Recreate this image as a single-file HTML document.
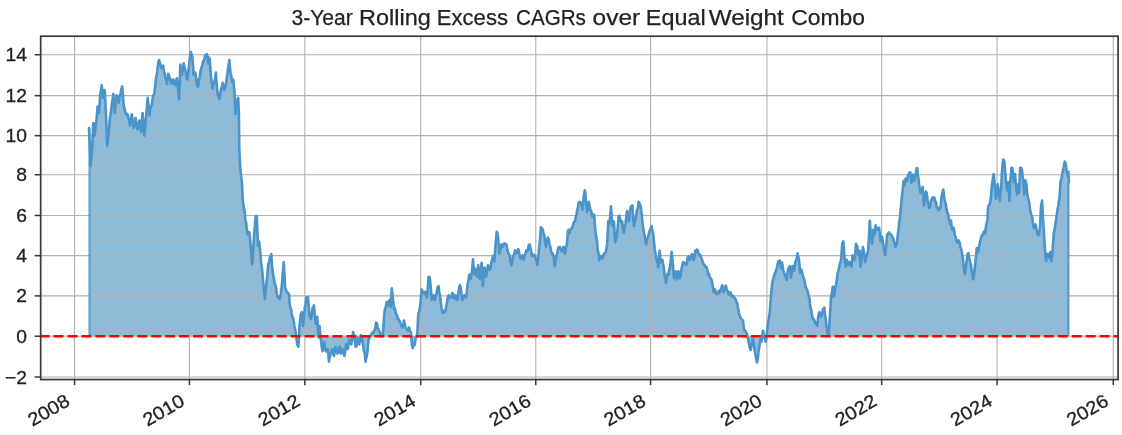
<!DOCTYPE html>
<html><head><meta charset="utf-8"><style>
html,body{margin:0;padding:0;background:#fff;}
body{width:1122px;height:435px;overflow:hidden;}
svg{display:block;font-family:"Liberation Sans", sans-serif;filter:blur(0.55px);}
</style></head><body>
<svg width="1122" height="435" viewBox="0 0 1122 435">
<rect x="0" y="0" width="1122" height="435" fill="#ffffff"/>
<polygon points="89.0,336.2 89.0,128.0 90.6,166.0 92.0,151.0 93.3,123.0 94.6,135.7 96.4,120.5 97.6,106.6 98.9,113.0 100.2,95.0 101.7,85.0 103.2,97.8 104.7,90.0 105.7,108.0 107.2,145.8 109.0,130.6 110.3,115.5 112.0,102.8 113.3,94.0 114.8,113.0 116.6,95.2 118.6,102.8 120.4,94.0 122.2,86.4 123.7,105.3 125.5,113.0 128.0,115.5 130.0,125.6 131.8,114.2 133.5,128.0 135.6,118.0 137.6,129.4 139.4,120.5 141.1,132.0 142.6,113.0 144.4,135.7 145.7,120.5 147.7,97.8 149.5,115.5 152.5,99.0 154.3,94.0 156.1,77.6 157.4,70.2 159.1,60.0 160.7,65.7 162.4,66.8 163.7,70.3 165.3,77.2 167.0,84.0 168.3,73.7 170.0,78.3 171.6,84.0 173.4,79.5 175.2,85.2 176.8,78.3 178.0,88.7 179.1,99.0 180.3,64.5 182.1,74.9 183.7,63.4 185.3,70.3 187.2,79.5 189.0,65.7 190.6,51.9 192.2,56.5 193.6,74.9 195.2,72.6 196.8,82.9 198.2,86.4 199.8,77.2 201.4,68.0 203.3,61.0 205.1,55.3 206.7,54.2 208.3,63.4 209.7,58.8 211.1,78.3 212.5,88.7 214.3,81.8 215.9,72.6 217.5,93.3 219.4,99.0 221.0,88.7 222.8,82.9 224.4,89.8 226.3,81.8 228.1,68.0 229.3,60.0 230.4,72.6 232.0,81.8 233.2,79.5 234.3,89.8 235.5,114.0 237.1,100.2 238.2,97.9 238.9,114.0 239.3,148.4 240.6,171.4 242.0,182.9 242.6,199.0 243.7,206.9 244.7,211.5 245.3,220.7 247.6,234.5 249.3,232.2 250.6,246.0 252.2,264.4 253.4,246.0 254.5,229.9 255.7,216.1 256.8,216.1 258.0,246.0 259.1,241.4 260.7,257.5 262.1,269.0 263.7,287.4 264.9,298.9 266.7,280.5 268.3,264.4 269.9,257.5 271.3,254.0 272.9,273.6 274.5,282.8 275.9,287.4 277.5,296.6 279.8,298.9 282.1,282.8 283.7,262.1 285.1,287.4 286.7,292.0 289.0,294.3 290.3,307.6 292.6,316.8 294.3,326.0 296.1,335.2 297.2,344.4 298.4,346.7 299.5,326.0 300.7,314.5 301.8,312.2 303.0,326.0 304.8,307.6 306.4,297.2 308.0,297.2 309.4,314.5 311.0,319.1 312.6,307.6 314.0,305.3 315.6,323.7 317.2,316.8 318.6,337.5 319.5,326.0 320.9,339.8 322.5,351.3 324.1,342.1 326.0,351.3 327.6,349.0 329.0,361.6 330.6,353.6 332.4,349.0 334.0,355.9 335.6,346.7 337.5,353.6 339.3,346.7 340.9,353.6 342.5,349.0 344.4,355.9 346.2,344.4 347.8,349.0 349.4,339.8 351.3,344.4 353.1,331.7 354.7,339.8 356.3,346.7 357.7,337.5 359.3,344.4 360.9,335.2 362.3,339.8 363.9,351.3 365.5,361.6 366.9,355.9 368.5,339.8 370.1,337.5 372.0,332.9 374.3,330.6 376.1,322.5 377.7,328.3 380.0,332.9 382.0,336.7 383.3,329.8 384.9,309.1 386.6,302.2 387.9,305.6 389.5,299.9 390.7,306.8 391.8,288.4 393.0,299.9 394.1,309.1 395.7,312.5 397.1,316.0 398.7,319.4 400.3,322.9 402.2,327.5 404.0,320.6 405.6,327.5 407.2,329.8 409.1,327.5 410.9,332.1 411.8,343.6 412.8,348.2 414.1,343.6 415.5,339.0 417.1,336.7 418.3,313.7 420.1,306.8 421.7,289.5 423.3,293.0 425.2,291.8 427.0,297.6 428.6,276.9 430.2,281.5 431.6,299.9 433.2,295.3 434.8,299.9 436.7,293.0 438.5,286.1 440.1,295.3 441.7,309.1 443.6,312.5 445.4,311.4 447.0,302.2 448.6,295.3 450.5,297.6 452.3,293.0 453.9,297.6 455.5,295.3 457.4,299.9 459.2,287.2 460.8,288.4 462.4,299.9 464.3,295.3 466.1,297.6 467.7,283.8 469.3,274.6 470.7,279.0 471.9,272.1 473.0,259.4 474.2,274.4 475.3,268.6 477.0,276.7 478.3,265.2 479.9,279.0 481.6,262.9 482.9,285.9 484.5,267.5 486.1,276.7 488.0,265.2 489.8,269.8 491.4,262.9 493.0,256.0 494.4,261.7 495.6,244.5 496.7,231.8 498.3,239.9 499.5,253.7 501.3,244.5 502.9,246.8 504.5,243.3 506.4,244.5 508.2,252.5 509.8,256.0 511.4,265.2 513.3,256.0 515.1,250.2 516.7,251.4 518.3,249.1 520.2,258.3 522.0,256.0 523.6,259.4 525.2,254.8 527.1,251.4 528.9,244.5 530.5,247.9 532.1,256.0 534.0,254.8 535.8,258.3 537.4,265.2 539.0,249.1 540.9,227.2 542.7,229.5 544.3,235.3 545.9,246.8 547.8,237.6 549.6,244.5 551.2,251.4 552.8,253.7 554.7,266.3 556.5,256.0 558.1,247.9 559.7,246.8 561.6,251.4 563.4,246.8 565.1,253.6 566.9,244.4 568.0,230.6 569.7,232.9 571.5,228.3 573.3,223.7 574.9,221.4 576.6,214.5 577.9,207.6 579.5,201.8 581.1,203.0 582.5,209.9 583.7,196.1 584.8,190.3 586.0,203.0 587.1,212.2 588.7,201.8 590.3,209.9 592.2,216.8 594.0,214.5 595.6,232.9 596.8,239.8 597.9,251.3 599.1,260.5 600.9,255.9 602.5,258.2 604.1,253.6 606.0,251.3 607.1,244.4 608.3,221.4 609.4,223.7 611.0,206.4 612.4,226.0 614.0,221.4 615.2,242.1 617.0,235.2 618.6,216.8 620.2,220.2 622.1,221.4 623.9,232.9 625.5,223.7 627.1,211.0 629.0,221.4 630.8,206.4 632.4,205.3 634.0,226.0 635.4,219.1 637.0,209.9 638.6,201.8 640.5,205.3 641.6,213.3 642.8,226.0 644.6,235.2 646.2,244.4 647.8,237.5 649.7,230.6 651.5,226.0 653.1,232.9 654.7,249.0 656.6,260.5 658.4,267.4 659.6,250.7 660.7,262.2 662.4,259.9 663.7,266.8 664.7,276.0 666.0,282.9 667.6,273.7 669.3,269.1 670.6,262.2 671.6,251.8 672.7,262.2 673.9,278.3 675.2,271.4 676.8,279.4 678.4,271.4 679.8,278.3 681.4,269.1 683.0,262.2 684.9,263.3 686.7,264.5 688.3,256.4 689.9,259.9 691.8,254.1 693.6,259.9 695.2,250.7 696.8,249.5 698.7,255.3 700.5,255.3 702.1,259.9 703.7,264.5 705.6,266.8 707.4,270.2 709.0,273.7 710.6,278.3 712.5,284.0 713.6,292.1 715.2,289.8 717.1,293.2 718.9,290.9 720.5,289.8 722.1,285.2 723.5,292.1 725.1,287.5 726.7,289.8 728.6,294.4 730.4,292.1 732.0,296.7 733.6,296.7 735.5,299.0 737.3,303.6 738.9,312.8 740.5,317.4 741.9,319.7 743.1,321.0 743.8,327.9 745.2,330.7 746.6,332.8 747.7,337.6 748.6,341.7 749.6,347.2 750.7,350.0 751.8,344.5 752.8,339.0 753.7,343.1 754.8,351.4 755.9,356.9 756.9,362.4 757.9,358.3 758.7,350.0 759.7,344.5 760.6,339.0 761.4,341.7 762.4,334.8 763.1,330.7 763.8,334.8 764.8,339.0 765.6,341.7 766.6,336.2 767.5,326.6 768.6,319.7 769.7,312.8 770.6,300.6 771.8,286.8 773.6,277.6 775.2,273.0 776.8,268.4 778.2,261.5 779.8,260.3 781.0,268.4 782.1,262.6 783.3,270.7 785.1,275.3 786.7,279.9 788.3,268.4 789.7,266.1 790.9,277.6 792.5,266.1 794.1,270.7 795.5,261.5 796.6,259.2 797.5,253.4 798.9,259.2 800.1,273.0 801.7,270.7 803.5,277.6 805.1,284.5 806.7,289.1 808.6,296.0 810.4,307.5 812.0,314.4 813.6,319.0 815.5,323.6 817.3,325.9 818.2,316.7 819.6,312.1 821.2,316.7 822.8,309.8 824.2,307.5 825.8,319.0 827.4,332.8 828.8,335.1 829.7,319.0 831.1,296.0 832.7,286.8 833.7,296.6 835.3,287.4 837.0,278.2 838.8,269.0 839.9,264.4 841.1,259.8 842.2,243.7 843.4,241.4 844.5,257.5 845.7,266.7 846.8,259.8 848.0,264.4 849.8,262.1 851.4,266.7 852.6,255.2 854.4,259.8 856.0,243.7 857.2,246.0 858.3,255.2 859.5,250.6 860.6,266.7 861.8,257.5 862.9,247.1 864.1,252.9 865.2,262.1 866.4,257.5 867.5,252.9 868.7,241.4 869.8,220.7 871.0,236.8 872.1,243.7 873.3,229.9 874.4,234.5 875.6,225.3 877.4,229.9 879.0,227.6 880.6,241.4 882.0,236.8 883.6,246.0 885.2,255.2 887.1,234.5 889.1,232.4 891.2,234.5 893.3,238.6 895.3,246.9 897.0,242.8 898.4,230.3 899.9,217.9 901.1,205.5 902.6,191.0 903.6,180.7 904.7,184.8 905.7,178.6 907.3,180.7 908.8,174.5 910.2,172.4 911.5,182.8 912.9,174.5 914.4,180.7 916.0,172.4 917.3,168.3 918.5,178.6 919.8,189.0 921.2,193.1 922.7,186.9 923.9,205.5 925.3,195.2 926.8,193.1 928.5,205.5 930.1,207.6 931.6,199.3 933.0,197.2 935.1,201.4 936.8,207.9 938.7,210.2 940.5,207.9 942.1,194.1 943.3,189.5 944.4,198.7 945.6,203.3 946.7,210.2 948.3,215.0 950.1,224.2 951.0,220.5 952.0,229.7 953.8,227.9 955.6,237.1 957.5,242.6 959.3,241.7 960.6,248.1 962.1,253.6 963.5,264.7 964.8,273.9 966.1,264.7 967.6,253.6 969.1,257.3 970.3,262.8 971.6,270.2 973.1,279.4 974.0,275.7 974.9,266.5 975.9,257.3 976.8,248.1 978.3,251.8 979.5,244.4 980.8,238.9 982.3,235.2 983.8,231.6 985.1,233.4 986.0,226.0 987.4,220.5 988.1,207.1 989.6,205.0 990.8,198.8 991.8,186.4 992.9,178.1 993.7,174.0 994.9,186.4 996.0,198.8 997.0,188.5 997.8,184.3 999.1,196.7 999.9,200.9 1001.1,188.5 1002.0,171.9 1003.2,159.5 1004.4,161.6 1005.3,174.0 1006.1,182.2 1007.3,190.5 1008.4,182.2 1009.4,200.9 1010.2,182.2 1011.5,167.8 1012.9,171.9 1014.0,182.2 1015.0,174.0 1016.0,186.4 1017.1,194.7 1018.1,184.3 1019.1,192.6 1020.2,167.8 1021.2,167.8 1022.2,171.9 1023.3,182.2 1024.3,194.7 1025.3,180.2 1026.4,184.3 1027.4,195.0 1029.2,202.4 1030.1,209.7 1031.4,215.2 1032.9,222.6 1033.8,228.1 1035.6,224.4 1036.9,231.8 1038.4,235.5 1039.9,228.1 1041.1,206.0 1042.1,200.5 1043.0,218.9 1044.3,239.1 1045.4,255.7 1046.1,261.2 1047.6,253.9 1049.1,257.5 1050.3,252.0 1051.3,261.2 1052.2,255.7 1053.1,242.8 1054.0,231.8 1055.3,224.4 1056.8,215.2 1058.3,206.0 1059.5,198.7 1060.5,182.2 1061.6,178.1 1062.6,171.9 1063.6,167.8 1064.7,161.6 1065.7,163.6 1066.7,171.9 1067.8,176.0 1068.4,171.9 1069.0,182.2 1069.0,336.2" fill="#8fbbd9" stroke="none"/>
<line x1="40.67" y1="377.03" x2="1118.09" y2="377.03" stroke="#b0b0b0" stroke-width="1.1"/>
<line x1="40.67" y1="336.20" x2="1118.09" y2="336.20" stroke="#b0b0b0" stroke-width="1.1"/>
<line x1="40.67" y1="295.90" x2="1118.09" y2="295.90" stroke="#b0b0b0" stroke-width="1.1"/>
<line x1="40.67" y1="255.67" x2="1118.09" y2="255.67" stroke="#b0b0b0" stroke-width="1.1"/>
<line x1="40.67" y1="215.48" x2="1118.09" y2="215.48" stroke="#b0b0b0" stroke-width="1.1"/>
<line x1="40.67" y1="174.75" x2="1118.09" y2="174.75" stroke="#b0b0b0" stroke-width="1.1"/>
<line x1="40.67" y1="135.67" x2="1118.09" y2="135.67" stroke="#b0b0b0" stroke-width="1.1"/>
<line x1="40.67" y1="95.67" x2="1118.09" y2="95.67" stroke="#b0b0b0" stroke-width="1.1"/>
<line x1="40.67" y1="54.75" x2="1118.09" y2="54.75" stroke="#b0b0b0" stroke-width="1.1"/>
<line x1="74.57" y1="36.2" x2="74.57" y2="379.56" stroke="#b0b0b0" stroke-width="1.1"/>
<line x1="189.43" y1="36.2" x2="189.43" y2="379.56" stroke="#b0b0b0" stroke-width="1.1"/>
<line x1="304.85" y1="36.2" x2="304.85" y2="379.56" stroke="#b0b0b0" stroke-width="1.1"/>
<line x1="420.69" y1="36.2" x2="420.69" y2="379.56" stroke="#b0b0b0" stroke-width="1.1"/>
<line x1="535.77" y1="36.2" x2="535.77" y2="379.56" stroke="#b0b0b0" stroke-width="1.1"/>
<line x1="650.57" y1="36.2" x2="650.57" y2="379.56" stroke="#b0b0b0" stroke-width="1.1"/>
<line x1="766.92" y1="36.2" x2="766.92" y2="379.56" stroke="#b0b0b0" stroke-width="1.1"/>
<line x1="881.66" y1="36.2" x2="881.66" y2="379.56" stroke="#b0b0b0" stroke-width="1.1"/>
<line x1="997.08" y1="36.2" x2="997.08" y2="379.56" stroke="#b0b0b0" stroke-width="1.1"/>
<line x1="1113.26" y1="36.2" x2="1113.26" y2="379.56" stroke="#b0b0b0" stroke-width="1.1"/>
<line x1="89.3" y1="336.2" x2="89.3" y2="128.0" stroke="rgba(31,119,180,0.4)" stroke-width="2.6"/>
<line x1="1068.4" y1="336.2" x2="1068.4" y2="182.2" stroke="rgba(31,119,180,0.45)" stroke-width="2.6"/>
<polyline points="89.0,128.0 89.8,146.6 90.6,166.0 91.3,159.2 92.0,151.0 92.7,136.7 93.3,123.0 93.9,128.9 94.6,135.7 95.5,126.8 96.4,120.5 97.6,106.6 98.2,109.5 98.9,113.0 99.6,105.6 100.2,95.0 101.0,90.6 101.7,85.0 102.5,92.9 103.2,97.8 104.0,94.2 104.7,90.0 105.7,108.0 106.5,127.5 107.2,145.8 108.1,138.5 109.0,130.6 109.7,120.7 110.3,115.5 111.2,110.3 112.0,102.8 112.7,99.1 113.3,94.0 114.0,104.2 114.8,113.0 115.7,101.7 116.6,95.2 117.6,96.6 118.6,102.8 119.5,97.2 120.4,94.0 121.3,89.5 122.2,86.4 123.0,96.3 123.7,105.3 124.6,109.1 125.5,113.0 126.3,114.6 127.2,113.8 128.0,115.5 129.0,121.0 130.0,125.6 130.9,120.5 131.8,114.2 132.7,120.2 133.5,128.0 134.2,127.1 134.9,122.1 135.6,118.0 136.6,125.4 137.6,129.4 138.5,124.1 139.4,120.5 140.2,125.2 141.1,132.0 141.8,122.0 142.6,113.0 143.5,124.2 144.4,135.7 145.1,129.0 145.7,120.5 146.7,109.5 147.7,97.8 148.6,106.0 149.5,115.5 150.2,110.0 151.0,106.5 151.8,104.8 152.5,99.0 153.4,95.4 154.3,94.0 155.2,86.1 156.1,77.6 156.8,74.5 157.4,70.2 158.2,63.0 159.1,60.0 159.9,62.9 160.7,65.7 161.6,68.1 162.4,66.8 163.1,65.7 163.7,70.3 164.5,73.3 165.3,77.2 166.2,80.5 167.0,84.0 167.7,77.7 168.3,73.7 169.2,76.7 170.0,78.3 170.8,81.1 171.6,84.0 172.5,79.7 173.4,79.5 174.3,83.5 175.2,85.2 176.0,82.7 176.8,78.3 178.0,88.7 179.1,99.0 179.7,83.1 180.3,64.5 181.2,71.7 182.1,74.9 182.9,69.7 183.7,63.4 184.5,67.0 185.3,70.3 186.2,73.1 187.2,79.5 188.1,73.5 189.0,65.7 189.8,57.9 190.6,51.9 191.4,53.6 192.2,56.5 192.9,63.9 193.6,74.9 194.4,72.4 195.2,72.6 196.0,77.0 196.8,82.9 197.5,86.5 198.2,86.4 199.0,79.0 199.8,77.2 200.6,70.6 201.4,68.0 202.4,64.8 203.3,61.0 204.2,60.2 205.1,55.3 205.9,55.6 206.7,54.2 207.5,56.1 208.3,63.4 209.0,57.6 209.7,58.8 210.4,69.1 211.1,78.3 211.8,82.5 212.5,88.7 213.4,83.7 214.3,81.8 215.1,78.6 215.9,72.6 216.7,84.5 217.5,93.3 218.4,96.4 219.4,99.0 220.2,94.2 221.0,88.7 221.9,86.4 222.8,82.9 223.6,88.6 224.4,89.8 225.4,86.7 226.3,81.8 227.2,75.6 228.1,68.0 228.7,64.8 229.3,60.0 230.4,72.6 231.2,75.0 232.0,81.8 233.2,79.5 234.3,89.8 235.5,114.0 236.3,108.9 237.1,100.2 238.2,97.9 238.9,114.0 239.3,148.4 239.9,161.2 240.6,171.4 241.3,177.9 242.0,182.9 242.6,199.0 243.7,206.9 244.7,211.5 245.3,220.7 246.1,222.5 246.8,229.0 247.6,234.5 248.4,234.5 249.3,232.2 249.9,236.6 250.6,246.0 251.4,254.9 252.2,264.4 252.8,256.6 253.4,246.0 254.5,229.9 255.7,216.1 256.8,216.1 258.0,246.0 259.1,241.4 259.9,247.6 260.7,257.5 261.4,265.5 262.1,269.0 262.9,279.0 263.7,287.4 264.9,298.9 265.8,289.5 266.7,280.5 267.5,272.9 268.3,264.4 269.1,261.9 269.9,257.5 270.6,255.9 271.3,254.0 272.1,265.4 272.9,273.6 273.7,277.3 274.5,282.8 275.2,284.5 275.9,287.4 276.7,293.5 277.5,296.6 278.3,297.4 279.0,296.9 279.8,298.9 280.6,294.9 281.3,290.2 282.1,282.8 282.9,271.8 283.7,262.1 284.4,272.8 285.1,287.4 285.9,289.5 286.7,292.0 287.5,292.6 288.2,293.1 289.0,294.3 289.6,302.9 290.3,307.6 291.1,309.2 291.8,315.5 292.6,316.8 293.5,319.6 294.3,326.0 295.2,329.5 296.1,335.2 297.2,344.4 298.4,346.7 299.5,326.0 300.7,314.5 301.8,312.2 303.0,326.0 303.9,317.7 304.8,307.6 305.6,304.0 306.4,297.2 307.2,298.4 308.0,297.2 308.7,306.3 309.4,314.5 310.2,317.0 311.0,319.1 311.8,313.6 312.6,307.6 313.3,307.3 314.0,305.3 314.8,314.3 315.6,323.7 316.4,320.6 317.2,316.8 317.9,328.0 318.6,337.5 319.5,326.0 320.2,332.9 320.9,339.8 321.7,346.6 322.5,351.3 323.3,347.5 324.1,342.1 325.1,349.5 326.0,351.3 326.8,350.6 327.6,349.0 328.3,354.7 329.0,361.6 329.8,357.1 330.6,353.6 331.5,351.3 332.4,349.0 333.2,353.7 334.0,355.9 334.8,350.8 335.6,346.7 336.6,350.7 337.5,353.6 338.4,352.7 339.3,346.7 340.1,346.6 340.9,353.6 341.7,349.7 342.5,349.0 343.4,352.8 344.4,355.9 345.3,350.7 346.2,344.4 347.0,347.0 347.8,349.0 348.6,343.8 349.4,339.8 350.4,343.0 351.3,344.4 352.2,338.4 353.1,331.7 353.9,335.0 354.7,339.8 355.5,346.7 356.3,346.7 357.0,342.6 357.7,337.5 358.5,340.2 359.3,344.4 360.1,339.7 360.9,335.2 361.6,337.2 362.3,339.8 363.1,345.5 363.9,351.3 364.7,353.0 365.5,361.6 366.2,358.1 366.9,355.9 367.7,349.3 368.5,339.8 369.3,337.0 370.1,337.5 371.1,335.1 372.0,332.9 372.8,333.5 373.5,332.6 374.3,330.6 375.2,328.6 376.1,322.5 376.9,323.0 377.7,328.3 378.5,329.3 379.2,330.9 380.0,332.9 381.0,335.7 382.0,336.7 382.6,334.8 383.3,329.8 384.1,316.0 384.9,309.1 385.8,307.2 386.6,302.2 387.2,301.9 387.9,305.6 388.7,303.7 389.5,299.9 390.7,306.8 391.8,288.4 393.0,299.9 394.1,309.1 394.9,308.7 395.7,312.5 396.4,314.5 397.1,316.0 397.9,319.4 398.7,319.4 399.5,320.9 400.3,322.9 401.2,325.5 402.2,327.5 403.1,325.2 404.0,320.6 404.8,324.2 405.6,327.5 406.4,328.5 407.2,329.8 408.1,330.8 409.1,327.5 410.0,331.3 410.9,332.1 411.8,343.6 412.8,348.2 413.5,345.5 414.1,343.6 414.8,344.8 415.5,339.0 416.3,336.2 417.1,336.7 418.3,313.7 419.2,311.5 420.1,306.8 420.9,297.8 421.7,289.5 422.5,291.4 423.3,293.0 424.2,293.4 425.2,291.8 426.1,295.0 427.0,297.6 427.8,288.1 428.6,276.9 429.4,277.1 430.2,281.5 430.9,288.6 431.6,299.9 432.4,298.5 433.2,295.3 434.0,296.3 434.8,299.9 435.8,295.0 436.7,293.0 437.6,287.5 438.5,286.1 439.3,292.5 440.1,295.3 440.9,303.2 441.7,309.1 442.6,312.9 443.6,312.5 444.5,310.6 445.4,311.4 446.2,306.8 447.0,302.2 447.8,297.2 448.6,295.3 449.6,297.5 450.5,297.6 451.4,297.5 452.3,293.0 453.1,294.1 453.9,297.6 454.7,298.6 455.5,295.3 456.4,299.0 457.4,299.9 458.3,293.3 459.2,287.2 460.0,285.0 460.8,288.4 461.6,296.1 462.4,299.9 463.4,297.5 464.3,295.3 465.2,295.6 466.1,297.6 466.9,291.3 467.7,283.8 468.5,279.8 469.3,274.6 470.0,278.9 470.7,279.0 471.9,272.1 473.0,259.4 474.2,274.4 475.3,268.6 476.1,271.2 477.0,276.7 477.6,272.5 478.3,265.2 479.1,274.2 479.9,279.0 480.8,273.0 481.6,262.9 482.2,274.1 482.9,285.9 483.7,275.7 484.5,267.5 485.3,273.5 486.1,276.7 487.1,271.1 488.0,265.2 488.9,267.7 489.8,269.8 490.6,268.3 491.4,262.9 492.2,259.1 493.0,256.0 493.7,255.6 494.4,261.7 495.0,252.6 495.6,244.5 496.7,231.8 497.5,233.3 498.3,239.9 499.5,253.7 500.4,250.2 501.3,244.5 502.1,246.1 502.9,246.8 503.7,244.2 504.5,243.3 505.4,243.9 506.4,244.5 507.3,249.7 508.2,252.5 509.0,254.4 509.8,256.0 510.6,262.5 511.4,265.2 512.3,260.5 513.3,256.0 514.2,254.6 515.1,250.2 515.9,252.9 516.7,251.4 517.5,252.5 518.3,249.1 519.2,252.8 520.2,258.3 521.1,258.4 522.0,256.0 522.8,255.1 523.6,259.4 524.4,255.6 525.2,254.8 526.2,250.4 527.1,251.4 528.0,249.4 528.9,244.5 529.7,244.5 530.5,247.9 531.3,251.9 532.1,256.0 533.0,255.1 534.0,254.8 534.9,256.5 535.8,258.3 536.6,260.9 537.4,265.2 538.2,257.5 539.0,249.1 540.0,240.7 540.9,227.2 541.8,228.4 542.7,229.5 543.5,233.1 544.3,235.3 545.1,242.5 545.9,246.8 546.8,241.9 547.8,237.6 548.7,239.3 549.6,244.5 550.4,247.2 551.2,251.4 552.0,254.1 552.8,253.7 553.8,257.7 554.7,266.3 555.6,260.3 556.5,256.0 557.3,253.4 558.1,247.9 558.9,248.5 559.7,246.8 560.7,249.1 561.6,251.4 562.5,250.2 563.4,246.8 564.2,250.4 565.1,253.6 566.0,247.3 566.9,244.4 568.0,230.6 568.9,229.6 569.7,232.9 570.6,229.7 571.5,228.3 572.4,227.3 573.3,223.7 574.1,221.8 574.9,221.4 575.8,216.7 576.6,214.5 577.2,210.0 577.9,207.6 578.7,202.6 579.5,201.8 580.3,202.2 581.1,203.0 581.8,204.8 582.5,209.9 583.1,203.5 583.7,196.1 584.8,190.3 585.4,193.3 586.0,203.0 587.1,212.2 587.9,207.5 588.7,201.8 589.5,205.0 590.3,209.9 591.2,210.6 592.2,216.8 593.1,216.7 594.0,214.5 594.8,223.3 595.6,232.9 596.8,239.8 597.9,251.3 598.5,252.8 599.1,260.5 600.0,257.0 600.9,255.9 601.7,257.5 602.5,258.2 603.3,255.3 604.1,253.6 605.0,253.5 606.0,251.3 607.1,244.4 608.3,221.4 609.4,223.7 610.2,216.1 611.0,206.4 611.7,217.1 612.4,226.0 613.2,224.2 614.0,221.4 614.6,233.6 615.2,242.1 616.1,239.6 617.0,235.2 617.8,226.6 618.6,216.8 619.4,215.6 620.2,220.2 621.2,222.1 622.1,221.4 623.0,229.0 623.9,232.9 624.7,227.9 625.5,223.7 626.3,216.7 627.1,211.0 628.0,218.9 629.0,221.4 629.9,211.4 630.8,206.4 631.6,206.5 632.4,205.3 633.2,219.0 634.0,226.0 634.7,221.3 635.4,219.1 636.2,215.5 637.0,209.9 637.8,208.5 638.6,201.8 639.5,203.4 640.5,205.3 641.6,213.3 642.8,226.0 643.7,231.4 644.6,235.2 645.4,241.1 646.2,244.4 647.0,239.7 647.8,237.5 648.8,233.9 649.7,230.6 650.6,228.7 651.5,226.0 652.3,230.6 653.1,232.9 653.9,240.9 654.7,249.0 655.7,254.5 656.6,260.5 657.5,262.5 658.4,267.4 659.0,258.5 659.6,250.7 660.7,262.2 661.5,262.3 662.4,259.9 663.0,263.5 663.7,266.8 664.7,276.0 665.4,278.3 666.0,282.9 666.8,277.1 667.6,273.7 668.5,274.9 669.3,269.1 670.0,267.2 670.6,262.2 671.6,251.8 672.7,262.2 673.9,278.3 674.5,275.7 675.2,271.4 676.0,271.9 676.8,279.4 677.6,276.3 678.4,271.4 679.1,275.5 679.8,278.3 680.6,276.1 681.4,269.1 682.2,266.2 683.0,262.2 684.0,262.7 684.9,263.3 685.8,264.6 686.7,264.5 687.5,257.7 688.3,256.4 689.1,259.6 689.9,259.9 690.8,257.5 691.8,254.1 692.7,256.0 693.6,259.9 694.4,257.2 695.2,250.7 696.0,252.6 696.8,249.5 697.8,250.4 698.7,255.3 699.6,254.4 700.5,255.3 701.3,258.0 702.1,259.9 702.9,262.5 703.7,264.5 704.7,265.1 705.6,266.8 706.5,267.1 707.4,270.2 708.2,274.9 709.0,273.7 709.8,277.5 710.6,278.3 711.5,279.5 712.5,284.0 713.6,292.1 714.4,289.1 715.2,289.8 716.2,293.9 717.1,293.2 718.0,293.4 718.9,290.9 719.7,292.9 720.5,289.8 721.3,288.6 722.1,285.2 722.8,287.4 723.5,292.1 724.3,290.2 725.1,287.5 725.9,285.6 726.7,289.8 727.7,291.1 728.6,294.4 729.5,293.2 730.4,292.1 731.2,295.1 732.0,296.7 732.8,295.7 733.6,296.7 734.5,297.7 735.5,299.0 736.4,301.9 737.3,303.6 738.1,308.7 738.9,312.8 739.7,316.0 740.5,317.4 741.2,318.8 741.9,319.7 742.5,319.9 743.1,321.0 743.8,327.9 744.5,330.4 745.2,330.7 745.9,331.8 746.6,332.8 747.7,337.6 748.6,341.7 749.6,347.2 750.7,350.0 751.8,344.5 752.8,339.0 753.7,343.1 754.8,351.4 755.9,356.9 756.9,362.4 757.9,358.3 758.7,350.0 759.7,344.5 760.6,339.0 761.4,341.7 762.4,334.8 763.1,330.7 763.8,334.8 764.8,339.0 765.6,341.7 766.6,336.2 767.5,326.6 768.6,319.7 769.7,312.8 770.6,300.6 771.8,286.8 772.7,281.0 773.6,277.6 774.4,274.4 775.2,273.0 776.0,270.7 776.8,268.4 777.5,264.8 778.2,261.5 779.0,261.1 779.8,260.3 780.4,264.3 781.0,268.4 782.1,262.6 783.3,270.7 784.2,273.2 785.1,275.3 785.9,277.4 786.7,279.9 787.5,272.4 788.3,268.4 789.0,267.8 789.7,266.1 790.9,277.6 791.7,273.3 792.5,266.1 793.3,269.0 794.1,270.7 794.8,265.8 795.5,261.5 796.6,259.2 797.5,253.4 798.2,256.9 798.9,259.2 799.5,264.7 800.1,273.0 800.9,269.2 801.7,270.7 802.6,274.2 803.5,277.6 804.3,279.7 805.1,284.5 805.9,287.8 806.7,289.1 807.7,291.0 808.6,296.0 809.5,298.2 810.4,307.5 811.2,309.5 812.0,314.4 812.8,318.9 813.6,319.0 814.5,320.8 815.5,323.6 816.4,322.8 817.3,325.9 818.2,316.7 818.9,313.3 819.6,312.1 820.4,315.1 821.2,316.7 822.0,313.9 822.8,309.8 823.5,308.9 824.2,307.5 825.0,315.3 825.8,319.0 826.6,326.9 827.4,332.8 828.1,333.9 828.8,335.1 829.7,319.0 830.4,308.3 831.1,296.0 831.9,293.7 832.7,286.8 833.7,296.6 834.5,293.4 835.3,287.4 836.1,284.2 837.0,278.2 837.9,272.1 838.8,269.0 839.9,264.4 840.5,261.9 841.1,259.8 842.2,243.7 843.4,241.4 844.5,257.5 845.1,263.1 845.7,266.7 846.8,259.8 847.4,261.7 848.0,264.4 848.9,264.7 849.8,262.1 850.6,265.2 851.4,266.7 852.0,262.2 852.6,255.2 853.5,257.2 854.4,259.8 855.2,255.2 856.0,243.7 856.6,246.6 857.2,246.0 858.3,255.2 858.9,252.6 859.5,250.6 860.6,266.7 861.8,257.5 862.9,247.1 863.5,250.1 864.1,252.9 865.2,262.1 866.4,257.5 867.5,252.9 868.1,250.7 868.7,241.4 869.8,220.7 870.4,228.3 871.0,236.8 872.1,243.7 873.3,229.9 874.4,234.5 875.0,231.1 875.6,225.3 876.5,229.0 877.4,229.9 878.2,228.8 879.0,227.6 879.8,232.9 880.6,241.4 881.3,239.4 882.0,236.8 882.8,241.9 883.6,246.0 884.4,252.2 885.2,255.2 886.2,245.9 887.1,234.5 888.1,233.5 889.1,232.4 889.8,234.3 890.5,234.6 891.2,234.5 891.9,236.2 892.6,237.3 893.3,238.6 894.3,242.4 895.3,246.9 896.1,245.8 897.0,242.8 897.7,235.1 898.4,230.3 899.1,223.2 899.9,217.9 900.5,211.7 901.1,205.5 901.9,196.2 902.6,191.0 903.6,180.7 904.7,184.8 905.7,178.6 906.5,179.0 907.3,180.7 908.0,174.8 908.8,174.5 909.5,172.5 910.2,172.4 910.9,178.4 911.5,182.8 912.2,179.4 912.9,174.5 913.6,177.5 914.4,180.7 915.2,176.2 916.0,172.4 916.6,168.4 917.3,168.3 917.9,176.0 918.5,178.6 919.1,184.5 919.8,189.0 920.5,192.6 921.2,193.1 922.0,188.8 922.7,186.9 923.9,205.5 924.6,200.1 925.3,195.2 926.0,191.6 926.8,193.1 927.6,200.4 928.5,205.5 929.3,207.9 930.1,207.6 930.9,200.8 931.6,199.3 932.3,198.2 933.0,197.2 933.7,199.5 934.4,197.5 935.1,201.4 936.0,202.1 936.8,207.9 937.8,207.6 938.7,210.2 939.6,208.2 940.5,207.9 941.3,199.0 942.1,194.1 943.3,189.5 944.4,198.7 945.0,201.0 945.6,203.3 946.7,210.2 947.5,212.9 948.3,215.0 949.2,220.5 950.1,224.2 951.0,220.5 952.0,229.7 952.9,229.8 953.8,227.9 954.7,234.6 955.6,237.1 956.5,241.5 957.5,242.6 958.4,240.3 959.3,241.7 960.0,244.2 960.6,248.1 961.4,249.4 962.1,253.6 962.8,257.6 963.5,264.7 964.1,269.2 964.8,273.9 965.5,269.3 966.1,264.7 966.9,259.8 967.6,253.6 968.4,253.2 969.1,257.3 970.3,262.8 971.0,264.8 971.6,270.2 972.4,274.8 973.1,279.4 974.0,275.7 974.9,266.5 975.9,257.3 976.8,248.1 977.5,249.7 978.3,251.8 978.9,247.7 979.5,244.4 980.1,241.6 980.8,238.9 981.5,236.0 982.3,235.2 983.0,234.4 983.8,231.6 984.5,233.0 985.1,233.4 986.0,226.0 986.7,223.1 987.4,220.5 988.1,207.1 988.9,205.1 989.6,205.0 990.8,198.8 991.8,186.4 992.9,178.1 993.7,174.0 994.9,186.4 996.0,198.8 997.0,188.5 997.8,184.3 998.5,190.3 999.1,196.7 999.9,200.9 1000.5,191.2 1001.1,188.5 1002.0,171.9 1002.6,164.3 1003.2,159.5 1004.4,161.6 1005.3,174.0 1006.1,182.2 1007.3,190.5 1008.4,182.2 1009.4,200.9 1010.2,182.2 1010.9,175.1 1011.5,167.8 1012.2,167.7 1012.9,171.9 1014.0,182.2 1015.0,174.0 1016.0,186.4 1017.1,194.7 1018.1,184.3 1019.1,192.6 1020.2,167.8 1021.2,167.8 1022.2,171.9 1023.3,182.2 1024.3,194.7 1025.3,180.2 1026.4,184.3 1027.4,195.0 1028.3,199.0 1029.2,202.4 1030.1,209.7 1030.8,212.7 1031.4,215.2 1032.2,217.0 1032.9,222.6 1033.8,228.1 1034.7,225.9 1035.6,224.4 1036.2,227.7 1036.9,231.8 1037.7,234.3 1038.4,235.5 1039.2,232.7 1039.9,228.1 1041.1,206.0 1042.1,200.5 1043.0,218.9 1043.7,228.9 1044.3,239.1 1045.4,255.7 1046.1,261.2 1046.8,256.4 1047.6,253.9 1048.3,255.5 1049.1,257.5 1049.7,254.7 1050.3,252.0 1051.3,261.2 1052.2,255.7 1053.1,242.8 1054.0,231.8 1054.7,229.1 1055.3,224.4 1056.0,220.2 1056.8,215.2 1057.5,209.6 1058.3,206.0 1058.9,200.5 1059.5,198.7 1060.5,182.2 1061.6,178.1 1062.6,171.9 1063.6,167.8 1064.7,161.6 1065.7,163.6 1066.7,171.9 1067.8,176.0 1068.4,171.9 1069.0,182.2" fill="none" stroke="#4a94ca" stroke-width="2.6" stroke-linejoin="round" stroke-linecap="round"/>
<line x1="40.67" y1="336.20" x2="1118.09" y2="336.20" stroke="#ff0000" stroke-width="2.6" stroke-dasharray="9.95 3.998" stroke-dashoffset="1.07"/>
<rect x="40.67" y="36.2" width="1077.4199999999998" height="343.36" fill="none" stroke="#383838" stroke-width="1.7"/>
<line x1="34.67" y1="377.03" x2="40.67" y2="377.03" stroke="#383838" stroke-width="1.5"/>
<text transform="translate(27,383.53) scale(1.04,1)" text-anchor="end" font-size="18.5" fill="#222" stroke="#222" stroke-width="0.3">−2</text>
<line x1="34.67" y1="336.20" x2="40.67" y2="336.20" stroke="#383838" stroke-width="1.5"/>
<text transform="translate(27,342.70) scale(1.04,1)" text-anchor="end" font-size="18.5" fill="#222" stroke="#222" stroke-width="0.3">0</text>
<line x1="34.67" y1="295.90" x2="40.67" y2="295.90" stroke="#383838" stroke-width="1.5"/>
<text transform="translate(27,302.40) scale(1.04,1)" text-anchor="end" font-size="18.5" fill="#222" stroke="#222" stroke-width="0.3">2</text>
<line x1="34.67" y1="255.67" x2="40.67" y2="255.67" stroke="#383838" stroke-width="1.5"/>
<text transform="translate(27,262.17) scale(1.04,1)" text-anchor="end" font-size="18.5" fill="#222" stroke="#222" stroke-width="0.3">4</text>
<line x1="34.67" y1="215.48" x2="40.67" y2="215.48" stroke="#383838" stroke-width="1.5"/>
<text transform="translate(27,221.98) scale(1.04,1)" text-anchor="end" font-size="18.5" fill="#222" stroke="#222" stroke-width="0.3">6</text>
<line x1="34.67" y1="174.75" x2="40.67" y2="174.75" stroke="#383838" stroke-width="1.5"/>
<text transform="translate(27,181.25) scale(1.04,1)" text-anchor="end" font-size="18.5" fill="#222" stroke="#222" stroke-width="0.3">8</text>
<line x1="34.67" y1="135.67" x2="40.67" y2="135.67" stroke="#383838" stroke-width="1.5"/>
<text transform="translate(27,142.17) scale(1.04,1)" text-anchor="end" font-size="18.5" fill="#222" stroke="#222" stroke-width="0.3">10</text>
<line x1="34.67" y1="95.67" x2="40.67" y2="95.67" stroke="#383838" stroke-width="1.5"/>
<text transform="translate(27,102.17) scale(1.04,1)" text-anchor="end" font-size="18.5" fill="#222" stroke="#222" stroke-width="0.3">12</text>
<line x1="34.67" y1="54.75" x2="40.67" y2="54.75" stroke="#383838" stroke-width="1.5"/>
<text transform="translate(27,61.25) scale(1.04,1)" text-anchor="end" font-size="18.5" fill="#222" stroke="#222" stroke-width="0.3">14</text>
<line x1="74.57" y1="379.56" x2="74.57" y2="385.16" stroke="#383838" stroke-width="1.5"/>
<text transform="translate(71.07,404.56) rotate(-30) scale(1.08,1)" text-anchor="end" font-size="18.5" fill="#222" stroke="#222" stroke-width="0.3">2008</text>
<line x1="189.43" y1="379.56" x2="189.43" y2="385.16" stroke="#383838" stroke-width="1.5"/>
<text transform="translate(185.93,404.56) rotate(-30) scale(1.08,1)" text-anchor="end" font-size="18.5" fill="#222" stroke="#222" stroke-width="0.3">2010</text>
<line x1="304.85" y1="379.56" x2="304.85" y2="385.16" stroke="#383838" stroke-width="1.5"/>
<text transform="translate(301.35,404.56) rotate(-30) scale(1.08,1)" text-anchor="end" font-size="18.5" fill="#222" stroke="#222" stroke-width="0.3">2012</text>
<line x1="420.69" y1="379.56" x2="420.69" y2="385.16" stroke="#383838" stroke-width="1.5"/>
<text transform="translate(417.19,404.56) rotate(-30) scale(1.08,1)" text-anchor="end" font-size="18.5" fill="#222" stroke="#222" stroke-width="0.3">2014</text>
<line x1="535.77" y1="379.56" x2="535.77" y2="385.16" stroke="#383838" stroke-width="1.5"/>
<text transform="translate(532.27,404.56) rotate(-30) scale(1.08,1)" text-anchor="end" font-size="18.5" fill="#222" stroke="#222" stroke-width="0.3">2016</text>
<line x1="650.57" y1="379.56" x2="650.57" y2="385.16" stroke="#383838" stroke-width="1.5"/>
<text transform="translate(647.07,404.56) rotate(-30) scale(1.08,1)" text-anchor="end" font-size="18.5" fill="#222" stroke="#222" stroke-width="0.3">2018</text>
<line x1="766.92" y1="379.56" x2="766.92" y2="385.16" stroke="#383838" stroke-width="1.5"/>
<text transform="translate(763.42,404.56) rotate(-30) scale(1.08,1)" text-anchor="end" font-size="18.5" fill="#222" stroke="#222" stroke-width="0.3">2020</text>
<line x1="881.66" y1="379.56" x2="881.66" y2="385.16" stroke="#383838" stroke-width="1.5"/>
<text transform="translate(878.16,404.56) rotate(-30) scale(1.08,1)" text-anchor="end" font-size="18.5" fill="#222" stroke="#222" stroke-width="0.3">2022</text>
<line x1="997.08" y1="379.56" x2="997.08" y2="385.16" stroke="#383838" stroke-width="1.5"/>
<text transform="translate(993.58,404.56) rotate(-30) scale(1.08,1)" text-anchor="end" font-size="18.5" fill="#222" stroke="#222" stroke-width="0.3">2024</text>
<line x1="1113.26" y1="379.56" x2="1113.26" y2="385.16" stroke="#383838" stroke-width="1.5"/>
<text transform="translate(1109.76,404.56) rotate(-30) scale(1.08,1)" text-anchor="end" font-size="18.5" fill="#222" stroke="#222" stroke-width="0.3">2026</text>
<text x="291.46" y="24.8" font-size="22.5" fill="#222" stroke="#222" stroke-width="0.25" textLength="61.24" lengthAdjust="spacingAndGlyphs">3-Year</text>
<text x="359.12" y="24.8" font-size="22.5" fill="#222" stroke="#222" stroke-width="0.25" textLength="71.72" lengthAdjust="spacingAndGlyphs">Rolling</text>
<text x="436.73" y="24.8" font-size="22.5" fill="#222" stroke="#222" stroke-width="0.25" textLength="71.29" lengthAdjust="spacingAndGlyphs">Excess</text>
<text x="515.98" y="24.8" font-size="22.5" fill="#222" stroke="#222" stroke-width="0.25" textLength="69.96" lengthAdjust="spacingAndGlyphs">CAGRs</text>
<text x="592.61" y="24.8" font-size="22.5" fill="#222" stroke="#222" stroke-width="0.25" textLength="47.65" lengthAdjust="spacingAndGlyphs">over</text>
<text x="645.82" y="24.8" font-size="22.5" fill="#222" stroke="#222" stroke-width="0.25" textLength="59.78" lengthAdjust="spacingAndGlyphs">Equal</text>
<text x="708.7" y="24.8" font-size="22.5" fill="#222" stroke="#222" stroke-width="0.25" textLength="75.1" lengthAdjust="spacingAndGlyphs">Weight</text>
<text x="791.18" y="24.8" font-size="22.5" fill="#222" stroke="#222" stroke-width="0.25" textLength="73.77" lengthAdjust="spacingAndGlyphs">Combo</text>
</svg>
</body></html>
